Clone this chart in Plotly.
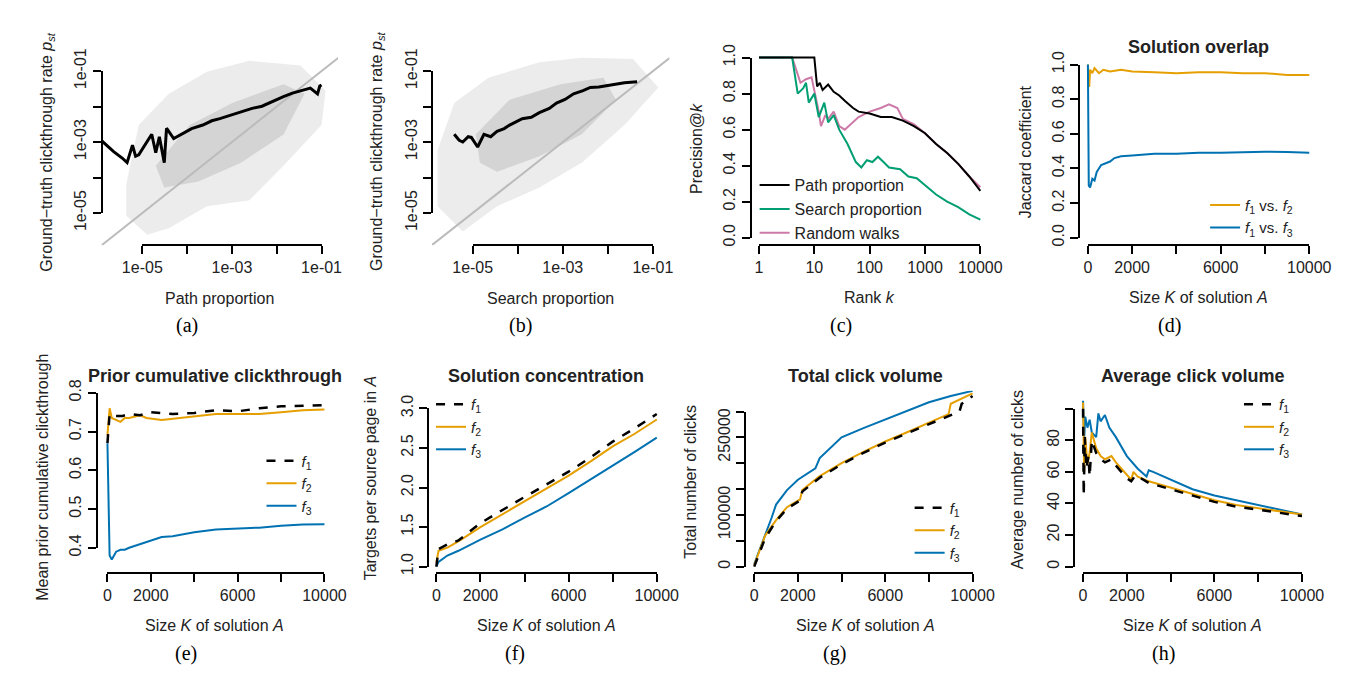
import plotly.graph_objects as go

W, H = 1347, 679
ORANGE, BLUE, GREEN, PINK = "#E69F00", "#0072B2", "#009E73", "#CC79A7"

# (a) path proportion vs clickthrough (log10 values)
a_cloud_x = [-5.36, -5.08, -4.41, -3.56, -2.61, -1.47, -0.91, -1.0, -1.85, -2.61, -3.56, -4.41, -4.89, -5.36]
a_cloud_y = [-4.20, -2.52, -1.64, -1.02, -0.71, -0.84, -1.55, -2.52, -3.67, -4.64, -4.81, -5.43, -5.61, -5.08]
a_core_x = [-4.70, -3.94, -2.99, -1.85, -1.38, -1.85, -2.80, -3.75, -4.51, -4.70]
a_core_y = [-3.67, -2.52, -1.90, -1.37, -1.64, -2.79, -3.58, -4.11, -4.28, -3.67]
a_line_x = [-5.91, -5.64, -5.45, -5.34, -5.22, -5.15, -5.08, -4.95, -4.79, -4.70, -4.62, -4.51, -4.46, -4.30, -4.13, -3.90,
            -3.65, -3.45, -3.27, -3.05, -2.80, -2.55, -2.33, -2.10, -1.85, -1.65, -1.47, -1.25, -1.09, -1.04, -1.0]
a_line_y = [-2.96, -3.27, -3.45, -3.58, -3.09, -3.40, -3.36, -3.10, -2.78, -3.30, -2.85, -3.58, -2.61, -2.90, -2.78, -2.62,
            -2.52, -2.40, -2.34, -2.25, -2.17, -2.05, -1.99, -1.85, -1.72, -1.62, -1.55, -1.48, -1.64, -1.42, -1.39]

# (b) search proportion vs clickthrough (log10 values)
b_cloud_x = [-5.78, -5.41, -4.65, -3.52, -2.58, -1.44, -0.88, -1.63, -2.58, -3.52, -4.46, -5.22, -5.78]
b_cloud_y = [-3.23, -1.90, -1.19, -0.75, -0.62, -0.66, -1.46, -2.52, -3.58, -4.28, -4.81, -5.52, -4.81]
b_core_x = [-4.93, -4.18, -3.05, -2.10, -1.82, -2.58, -3.52, -4.46, -4.84, -4.93]
b_core_y = [-2.78, -1.81, -1.37, -1.19, -1.81, -2.78, -3.40, -3.84, -3.58, -2.78]
b_line_x = [-5.41, -5.30, -5.22, -5.10, -5.03, -4.89, -4.75, -4.60, -4.46, -4.30, -4.18, -3.90, -3.70, -3.52, -3.30,
            -3.14, -2.95, -2.76, -2.55, -2.39, -2.20, -2.01, -1.80, -1.63, -1.35]
b_line_y = [-2.78, -2.95, -3.00, -2.85, -2.87, -3.14, -2.78, -2.85, -2.70, -2.62, -2.52, -2.34, -2.30, -2.17, -2.05,
            -1.90, -1.80, -1.64, -1.55, -1.46, -1.45, -1.41, -1.38, -1.33, -1.30]

# (c) precision@k, x = log10(k)
c_path_x = [0, 1.0, 1.05, 1.1, 1.15, 1.25, 1.35, 1.45, 1.55, 1.7, 1.8, 2.0, 2.2, 2.4, 2.6, 2.8, 3.0, 3.2, 3.4, 3.6, 3.8, 4.0]
c_path_y = [1, 1, 0.84, 0.86, 0.82, 0.85, 0.81, 0.79, 0.76, 0.72, 0.70, 0.69, 0.67, 0.67, 0.65, 0.62, 0.58, 0.52, 0.47, 0.41, 0.34, 0.26]
c_search_x = [0, 0.6, 0.7, 0.8, 0.85, 0.9, 1.0, 1.08, 1.18, 1.25, 1.35, 1.45, 1.6, 1.75, 1.85, 1.95, 2.05, 2.15, 2.25,
              2.35, 2.55, 2.7, 2.85, 3.0, 3.2, 3.4, 3.6, 3.8, 4.0]
c_search_y = [1, 1, 0.80, 0.83, 0.86, 0.75, 0.80, 0.67, 0.75, 0.64, 0.68, 0.60, 0.52, 0.42, 0.39, 0.43, 0.42, 0.45, 0.42,
              0.39, 0.38, 0.34, 0.33, 0.29, 0.24, 0.20, 0.17, 0.13, 0.10]
c_rw_x = [0, 0.6, 0.75, 0.85, 0.95, 1.08, 1.12, 1.2, 1.25, 1.35, 1.45, 1.55, 1.8, 2.0, 2.2, 2.35, 2.5, 2.6, 2.8, 3.0, 3.2, 3.4, 3.6, 3.8, 4.0]
c_rw_y = [1, 1, 0.86, 0.88, 0.89, 0.70, 0.62, 0.68, 0.66, 0.70, 0.62, 0.60, 0.67, 0.70, 0.72, 0.74, 0.72, 0.66, 0.63, 0.58, 0.52, 0.47, 0.41, 0.34, 0.28]

# (d) solution overlap
d_f12_x = [1, 30, 60, 100, 200, 300, 500, 700, 1000, 1500, 2000, 3000, 4000, 5000, 6000, 7000, 8000, 9000, 10000]
d_f12_y = [1.0, 0.90, 0.87, 0.97, 0.95, 0.98, 0.95, 0.97, 0.96, 0.97, 0.96, 0.955, 0.95, 0.955, 0.955, 0.95, 0.95, 0.94, 0.94]
d_f13_x = [1, 20, 40, 100, 200, 300, 400, 600, 800, 1000, 1200, 1500, 2000, 3000, 4000, 5000, 6000, 7000, 8000, 9000, 10000]
d_f13_y = [1.0, 0.6, 0.30, 0.29, 0.34, 0.33, 0.38, 0.42, 0.43, 0.44, 0.46, 0.47, 0.475, 0.485, 0.485, 0.49, 0.49, 0.495, 0.497, 0.495, 0.49]

# (e) prior cumulative clickthrough
e_f1_x = [0, 50, 100, 300, 700, 1000, 1500, 2000, 3000, 4000, 5000, 6000, 7000, 8000, 9000, 10000]
e_f1_y = [0.67, 0.72, 0.745, 0.74, 0.74, 0.745, 0.742, 0.75, 0.745, 0.748, 0.755, 0.752, 0.76, 0.765, 0.767, 0.768]
e_f2_x = [0, 100, 200, 400, 600, 800, 1000, 1500, 1800, 2500, 3000, 4000, 5000, 6000, 7000, 8000, 9000, 10000]
e_f2_y = [0.69, 0.76, 0.735, 0.73, 0.725, 0.735, 0.735, 0.742, 0.735, 0.73, 0.733, 0.74, 0.745, 0.745, 0.745, 0.75, 0.755, 0.757]
e_f3_x = [0, 100, 200, 400, 600, 800, 1000, 1500, 2000, 2500, 3000, 4000, 5000, 6000, 7000, 8000, 9000, 10000]
e_f3_y = [0.67, 0.38, 0.37, 0.39, 0.395, 0.395, 0.40, 0.41, 0.42, 0.428, 0.43, 0.44, 0.447, 0.45, 0.452, 0.457, 0.46, 0.461]

# (f) solution concentration
f_x = [0, 100, 500, 1000, 2000, 3000, 4000, 5000, 6000, 7000, 8000, 9000, 10000]
f_f1 = [1.0, 1.22, 1.28, 1.33, 1.55, 1.72, 1.88, 2.04, 2.20, 2.38, 2.58, 2.75, 2.93]
f_f2 = [1.05, 1.20, 1.24, 1.32, 1.50, 1.66, 1.82, 1.98, 2.15, 2.33, 2.52, 2.68, 2.86]
f_f3 = [1.0, 1.06, 1.14, 1.20, 1.34, 1.47, 1.62, 1.76, 1.93, 2.10, 2.28, 2.45, 2.63]

# (g) total click volume
g_f1_x = [0, 500, 1000, 1500, 2100, 2200, 3000, 4000, 5000, 6000, 7000, 8000, 9000, 9400, 9500, 10000]
g_f1_y = [0, 55000, 88000, 112000, 128000, 145000, 172000, 198000, 220000, 240000, 258000, 275000, 292000, 300000, 315000, 330000]
g_f2_x = [0, 500, 1000, 1500, 2100, 2200, 3000, 4000, 5000, 6000, 7000, 8000, 8900, 9000, 10000]
g_f2_y = [3000, 60000, 90000, 115000, 130000, 148000, 175000, 200000, 222000, 242000, 260000, 278000, 295000, 315000, 335000]
g_f3_x = [0, 500, 800, 1000, 1500, 2000, 2800, 3000, 3500, 4000, 5000, 6000, 7000, 8000, 9000, 10000]
g_f3_y = [5000, 60000, 95000, 120000, 148000, 168000, 190000, 210000, 230000, 250000, 268000, 285000, 302000, 318000, 330000, 340000]

# (h) average click volume
h_f1_x = [0, 30, 80, 150, 250, 300, 400, 600, 800, 1000, 1300, 1500, 2000, 2200, 2400, 3000, 4000, 5000, 6000, 7000, 8000, 9000, 10000]
h_f1_y = [100, 45, 82, 62, 70, 57, 80, 72, 68, 66, 68, 64, 56, 54, 58, 53, 49, 45, 41, 38, 36, 34, 32]
h_f2_x = [0, 50, 100, 200, 300, 400, 600, 800, 1000, 1300, 1500, 2000, 2200, 2300, 2500, 3000, 4000, 5000, 6000, 7000, 8000, 9000, 10000]
h_f2_y = [104, 60, 82, 65, 72, 85, 75, 70, 68, 70, 66, 58, 55, 60, 57, 54, 50, 46, 42, 39, 37, 35, 33]
h_f3_x = [0, 50, 100, 200, 300, 400, 600, 700, 800, 900, 1000, 1200, 1500, 2000, 2500, 2900, 3000, 3200, 4000, 5000, 6000, 7000, 8000, 9000, 10000]
h_f3_y = [105, 80, 95, 88, 93, 85, 82, 97, 92, 94, 96, 88, 82, 70, 62, 57, 61, 60, 55, 49, 45, 42, 39, 36, 33]

K_ticks = [0, 2000, 4000, 6000, 8000, 10000]
K_text = ["0", "2000", "", "6000", "", "10000"]
log_ticks = [-5, -4, -3, -2, -1]
log_text = ["1e-05", "", "1e-03", "", "1e-01"]

FONT = "Liberation Sans, Arial, sans-serif"
FS = 16
fig = go.Figure()
layout = {}


def lin(p0, v0, p1, v1, p):
    return v0 + (p - p0) * (v1 - v0) / (p1 - p0)


def panel(i, box, xcal, ycal, xticks, xtext, yticks, ytext):
    L, R, T, B = box
    (px0, vx0), (px1, vx1) = xcal
    (py0, vy0), (py1, vy1) = ycal
    layout[f"xaxis{i}"] = dict(domain=[L / W, R / W], range=[lin(px0, vx0, px1, vx1, L), lin(px0, vx0, px1, vx1, R)],
                               anchor=f"y{i}", visible=False)
    layout[f"yaxis{i}"] = dict(domain=[1 - B / H, 1 - T / H], range=[lin(py0, vy0, py1, vy1, B), lin(py0, vy0, py1, vy1, T)],
                               anchor=f"x{i}", visible=False)
    j = i + 8
    common = dict(showgrid=False, zeroline=False, showline=True, linewidth=2, linecolor="black",
                  ticks="outside", tickwidth=2, ticklen=8, tickcolor="black",
                  tickfont=dict(family=FONT, size=FS, color="#222"), anchor="free", fixedrange=True)
    xs = sorted([px0, px1])
    ys = sorted([py0, py1])
    layout[f"xaxis{j}"] = dict(common, domain=[xs[0] / W, xs[1] / W], range=[min(vx0, vx1), max(vx0, vx1)],
                               position=1 - B / H, tickvals=xticks, ticktext=xtext, tickmode="array")
    layout[f"yaxis{j}"] = dict(common, domain=[1 - ys[1] / H, 1 - ys[0] / H], range=[min(vy0, vy1), max(vy0, vy1)],
                               position=L / W, tickvals=yticks, ticktext=ytext, tickmode="array", tickangle=-90)
    fig.add_trace(go.Scatter(x=[None], y=[None], xaxis=f"x{j}", yaxis=f"y{j}", showlegend=False, hoverinfo="skip"))


def line(i, x, y, color, width=2, dash="solid", name=None, legend=None):
    fig.add_trace(go.Scatter(x=x, y=y, mode="lines", xaxis=f"x{i}", yaxis=f"y{i}",
                             line=dict(color=color, width=width, dash=dash),
                             name=name, showlegend=name is not None, legend=legend))


def poly(i, x, y, rgba):
    fig.add_trace(go.Scatter(x=x, y=y, mode="lines", fill="toself", fillcolor=rgba, line=dict(width=0),
                             xaxis=f"x{i}", yaxis=f"y{i}", showlegend=False, hoverinfo="skip"))


ann = []


def text(x, y, s, size=FS, angle=0, family=FONT, color="#222"):
    ann.append(dict(x=x / W, y=1 - y / H, xref="paper", yref="paper", text=s, showarrow=False, textangle=angle,
                    font=dict(family=family, size=size, color=color), xanchor="center", yanchor="middle"))


# ---- top row ----
panel(1, (76, 320, 28, 228), ((118, -5), (303, -1)), ((42.7, -1), (193.7, -5)), log_ticks, log_text, log_ticks, log_text)
poly(1, a_cloud_x, a_cloud_y, "rgba(170,170,170,0.22)")
poly(1, a_core_x, a_core_y, "rgba(140,140,140,0.25)")
line(1, [-7, 0], [-7, 0], "#bbbbbb", 2)
line(1, a_line_x, a_line_y, "black", 3)

panel(2, (417, 662, 28, 228), ((459, -5), (645, -1)), ((42.7, -1), (193.7, -5)), log_ticks, log_text, log_ticks, log_text)
poly(2, b_cloud_x, b_cloud_y, "rgba(170,170,170,0.22)")
poly(2, b_core_x, b_core_y, "rgba(140,140,140,0.25)")
line(2, [-7, 0], [-7, 0], "#bbbbbb", 2)
line(2, b_line_x, b_line_y, "black", 3)

panel(3, (746, 992, 21, 228), ((754.5, 0), (983, 4)), ((28.3, 1), (220, 0)), [0, 1, 2, 3, 4],
      ["1", "10", "100", "1000", "10000"], [0, 0.2, 0.4, 0.6, 0.8, 1.0], ["0.0", "0.2", "0.4", "0.6", "0.8", "1.0"])
line(3, c_rw_x, c_rw_y, PINK, 2, name="Random walks", legend="legend")
line(3, c_search_x, c_search_y, GREEN, 2, name="Search proportion", legend="legend")
line(3, c_path_x, c_path_y, "black", 2, name="Path proportion", legend="legend")

panel(4, (1085, 1331, 28, 228), ((1094, 0), (1322.5, 10000)), ((35.7, 1), (220, 0)), K_ticks, K_text,
      [0, 0.2, 0.4, 0.6, 0.8, 1.0], ["0.0", "0.2", "0.4", "0.6", "0.8", "1.0"])
line(4, d_f12_x, d_f12_y, ORANGE, 2, name="<i>f</i><sub>1</sub> vs. <i>f</i><sub>2</sub>", legend="legend2")
line(4, d_f13_x, d_f13_y, BLUE, 2, name="<i>f</i><sub>1</sub> vs. <i>f</i><sub>3</sub>", legend="legend2")

# ---- bottom row ----
panel(5, (71, 315, 380, 577), ((82, 0), (306, 10000)), ((385, 0.8), (550, 0.4)), K_ticks, K_text,
      [0.4, 0.5, 0.6, 0.7, 0.8], ["0.4", "0.5", "0.6", "0.7", "0.8"])
panel(6, (413, 659, 390, 577), ((421.5, 0), (649, 10000)), ((401.7, 3.0), (570, 1.0)), K_ticks, K_text,
      [1.0, 1.5, 2.0, 2.5, 3.0], ["1.0", "1.5", "2.0", "2.5", "3.0"])
panel(7, (740, 984, 383, 577), ((749.6, 0), (975, 10000)), ((570, 0), (405, 300000)), K_ticks, K_text,
      [0, 50000, 100000, 150000, 200000, 250000, 300000], ["0", "", "100000", "", "", "250000", ""])
panel(8, (1080, 1325, 378, 577), ((1089, 0), (1315, 10000)), ((570, 0), (402, 100)), K_ticks, K_text,
      [0, 20, 40, 60, 80, 100], ["0", "20", "40", "60", "80", ""])

fnames = ["<i>f</i><sub>1</sub>", "<i>f</i><sub>2</sub>", "<i>f</i><sub>3</sub>"]
for i, lg, series in [
    (5, "legend3", [(e_f1_x, e_f1_y), (e_f2_x, e_f2_y), (e_f3_x, e_f3_y)]),
    (6, "legend4", [(f_x, f_f1), (f_x, f_f2), (f_x, f_f3)]),
    (7, "legend5", [(g_f1_x, g_f1_y), (g_f2_x, g_f2_y), (g_f3_x, g_f3_y)]),
    (8, "legend6", [(h_f1_x, h_f1_y), (h_f2_x, h_f2_y), (h_f3_x, h_f3_y)]),
]:
    line(i, *series[2], BLUE, 2, name=fnames[2], legend=lg)
    line(i, *series[1], ORANGE, 2, name=fnames[1], legend=lg)
    line(i, *series[0], "black", 2.5, dash="dash", name=fnames[0], legend=lg)

# axis titles, panel titles, panel labels
ylab_a = "Ground\u2212truth clickthrough rate <i>p<sub>st</sub></i>"
text(20, 128, ylab_a, angle=-90)
text(360, 128, ylab_a, angle=-90)
text(198, 285, "Path proportion")
text(539, 285, "Search proportion")
text(690, 125, "Precision@<i>k</i>", angle=-90)
text(869, 284, "Rank <i>k</i>")
text(1029, 128, "Jaccard coefficient", angle=-90)
text(1208, 284, "Size <i>K</i> of solution <i>A</i>")
text(1208, 17, "<b>Solution overlap</b>", size=18)
text(15, 475, "Mean prior cumulative clickthrough", angle=-90)
text(353, 475, "Targets per source page in <i>A</i>", angle=-90)
text(683, 480, "Total number of clicks", angle=-90)
text(1021, 478, "Average number of clicks", angle=-90)
for cx, t in [(193, "Prior cumulative clickthrough"), (535, "Solution concentration"),
              (864, "Total click volume"), (1202, "Average click volume")]:
    text(cx, 367, f"<b>{t}</b>", size=18)
    text(cx, 633, "Size <i>K</i> of solution <i>A</i>")
SERIF = "Liberation Serif, Times New Roman, serif"
for cx, cy, t in [(164, 313, "(a)"), (508, 313, "(b)"), (839, 313, "(c)"), (1178, 313, "(d)"),
                  (163, 663, "(e)"), (503, 663, "(f)"), (832, 663, "(g)"), (1172, 663, "(h)")]:
    text(cx, cy, t, size=20, family=SERIF, color="black")


def leg(x, y, traceorder="normal", size=15):
    return dict(x=x / W, y=1 - y / H, xanchor="left", yanchor="top", bgcolor="rgba(0,0,0,0)",
                font=dict(family=FONT, size=size, color="#222"), itemwidth=30, tracegroupgap=0,
                traceorder=traceorder)


layout.update(
    width=W, height=H, autosize=False, margin=dict(l=0, r=0, t=0, b=0),
    plot_bgcolor="rgba(0,0,0,0)", paper_bgcolor="white", annotations=ann,
    legend=leg(750, 146, "reversed", 16), legend2=leg(1215, 168),
    legend3=leg(241, 440, "reversed"), legend4=leg(416, 380, "reversed"),
    legend5=leg(910, 490, "reversed"), legend6=leg(1250, 380, "reversed"),
)
fig.update_layout(**layout)
fig.write_html("out.html")
